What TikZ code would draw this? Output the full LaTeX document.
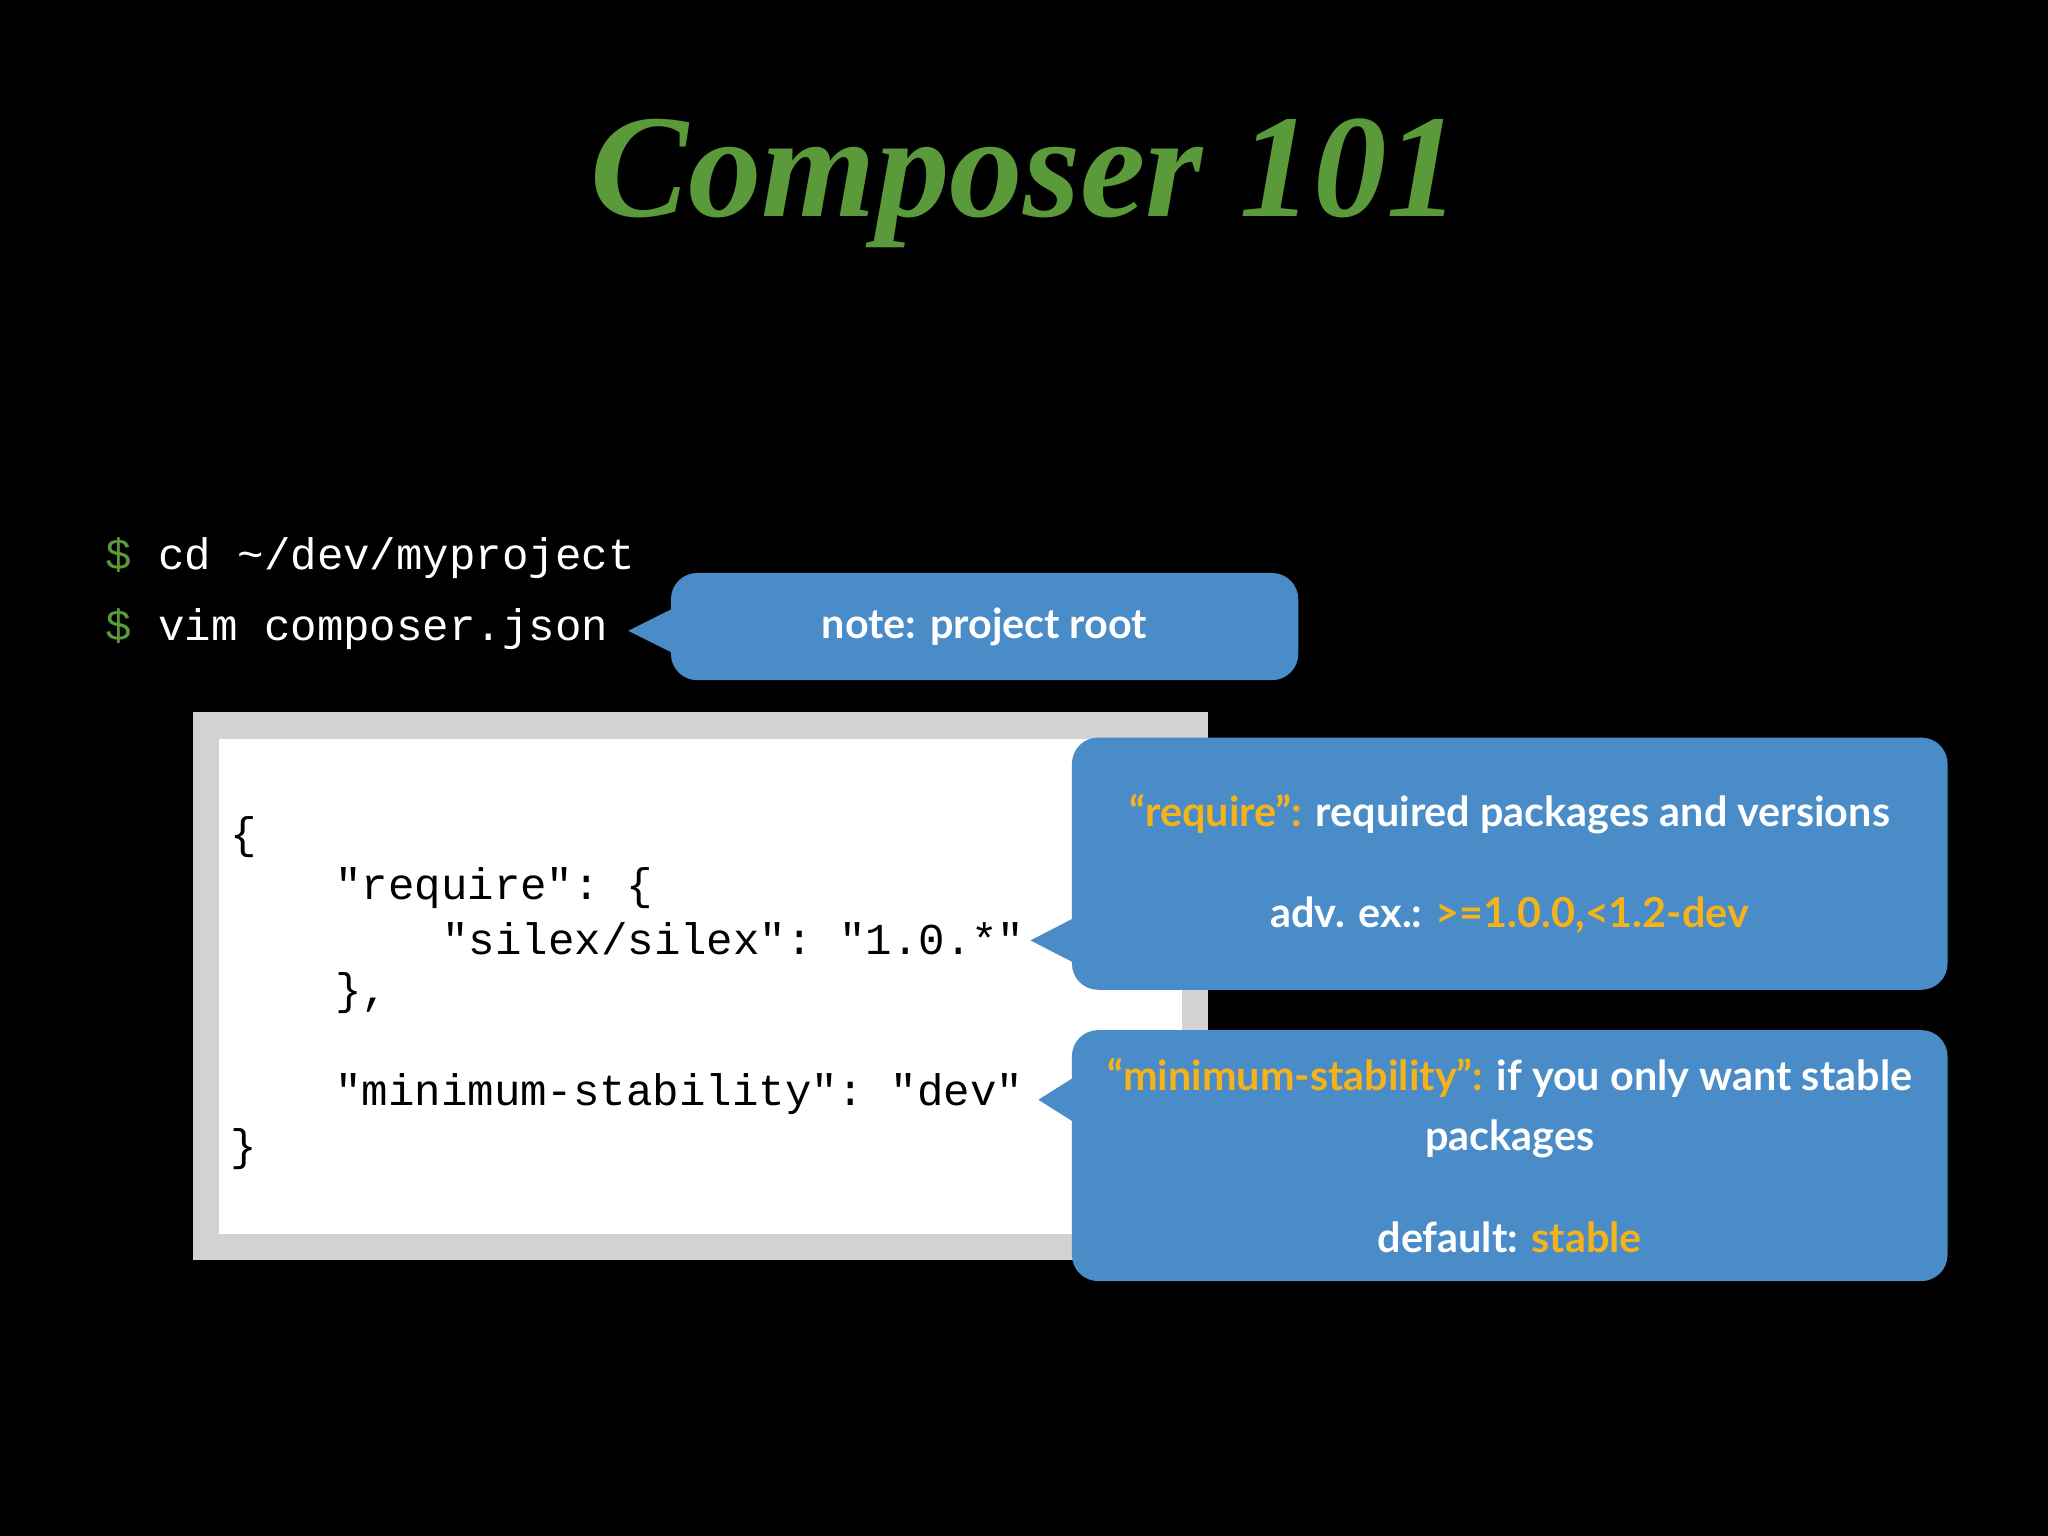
\documentclass[tikz,border=0pt]{standalone}
\usepackage{fontspec}
\setmainfont{Lato}
\setmonofont{Liberation Mono}
\newfontfamily\titlefont{Liberation Serif}
\definecolor{bub}{HTML}{4A8CC8}
\definecolor{org}{HTML}{F5B21A}
\definecolor{grn}{HTML}{5A9A3A}
\begin{document}
\begin{tikzpicture}[x=0.01cm,y=-0.01cm,
  bubble/.style={fill=bub,rounded corners=0.2cm,inner sep=0pt,anchor=north west,text=white,align=center,font=\fontsize{9}{13}\selectfont\bfseries},
  code/.style={anchor=west,font=\ttfamily\fontsize{9.6}{10}\selectfont,inner sep=0pt},
  term/.style={anchor=west,font=\ttfamily\fontsize{9.6}{10}\selectfont,inner sep=0pt,text=white}]
\fill[black] (0,0) rectangle (1568,1176);
\useasboundingbox (0,0) rectangle (1568,1176);
\node[text=grn,font=\titlefont\bfseries\itshape\fontsize{32}{32}\selectfont] (title) at (785,140) {Composer 101};
\node[term] (t1) at (80,427) {\textcolor{grn}{\$} cd \textasciitilde/dev/myproject};
\node[term] (t2) at (80,482) {\textcolor{grn}{\$} vim composer.json};
% code box
\fill[gray!35] (148,545) rectangle (925,965);
\fill[white] (168,566) rectangle (905,945);
\node[code] (c1) at (176,641) {\{};
\node[code] (c2) at (256,680) {"require": \{};
\node[code] (c3) at (338,719) {"silex/silex": "1.0.*"};
\node[code] (c4) at (256,760) {\},};
\node[code] (c5) at (256,838) {"minimum-stability": "dev"};
\node[code] (c6) at (176,880) {\}};
% bubble 1
\node[bubble,minimum width=4.8cm,minimum height=0.82cm] (b1) at (513,438) {note: project root};
\fill[bub] (481,483) -- (515,466) -- (515,500) -- cycle;
% bubble 2
\node[bubble,minimum width=6.7cm,minimum height=1.93cm] (b2) at (820,564) {\textcolor{org}{“require”:} required packages and versions\\[0.32cm] adv. ex.: \textcolor{org}{>=1.0.0,<1.2-dev}};
\fill[bub] (789,720) -- (822,703) -- (822,737) -- cycle;
% bubble 3
\node[bubble,minimum width=6.7cm,minimum height=1.92cm] (b3) at (820,788) {\textcolor{org}{“minimum-stability”:} if you only want stable\\packages\\[0.32cm] default: \textcolor{org}{stable}};
\fill[bub] (795,842) -- (822,825) -- (822,859) -- cycle;
\end{tikzpicture}
\end{document}
